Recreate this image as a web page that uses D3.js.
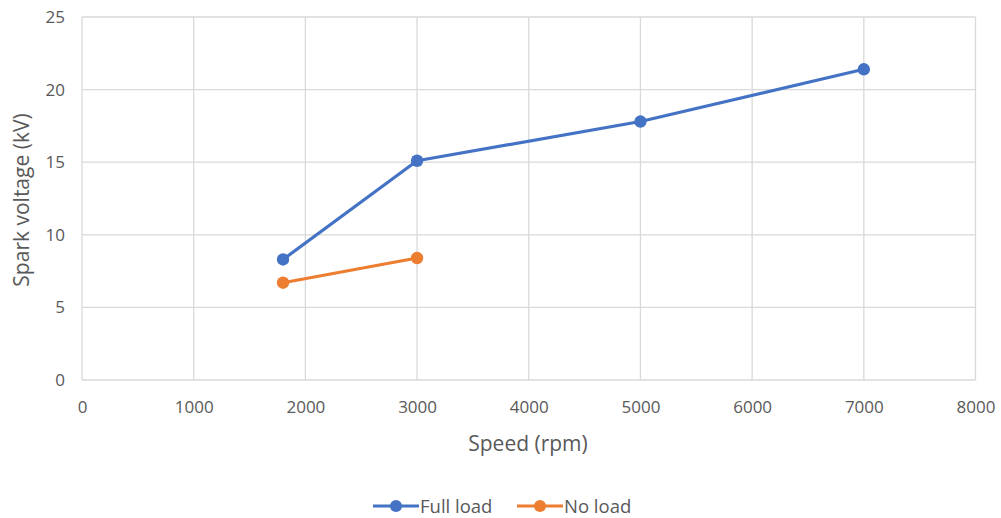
<!DOCTYPE html>
<html><head><meta charset="utf-8">
<script src="https://cdn.jsdelivr.net/npm/d3@7"></script>
<style>body{margin:0;background:#fff;}svg text{font-family:"Open Sans",Lato,sans-serif;fill:#595959;}</style>
</head><body>
<svg id="c" width="1001" height="518"></svg>
<script>
const xTicks = [0,1000,2000,3000,4000,5000,6000,7000,8000];
const yTicks = [0,5,10,15,20,25];
const fullSpeed = [1800,3000,5000,7000];
const fullVolt = [8.3,15.1,17.8,21.4];
const noSpeed = [1800,3000];
const noVolt = [6.7,8.4];
const seriesNames = ["Full load","No load"];
const colors = ["#4472C4","#ED7D31"];

const svg = d3.select("#c");
const x = d3.scaleLinear().domain([0,8000]).range([82,975.5]);
const y = d3.scaleLinear().domain([0,25]).range([380,17]);

const g = svg.append("g");
g.selectAll(".vg").data(xTicks).join("line")
  .attr("x1",d=>x(d)).attr("x2",d=>x(d)).attr("y1",y(0)).attr("y2",y(25))
  .attr("stroke","#d9d9d9").attr("stroke-width",1.3);
g.selectAll(".hg").data(yTicks).join("line")
  .attr("x1",x(0)).attr("x2",x(8000)).attr("y1",d=>y(d)).attr("y2",d=>y(d))
  .attr("stroke","#d9d9d9").attr("stroke-width",1.3);

const xAxis = svg.append("g").attr("transform",`translate(0,${y(0)})`)
  .call(d3.axisBottom(x).tickValues(xTicks).tickSize(0).tickPadding(21).tickFormat(d3.format("d")));
xAxis.select(".domain").remove();
xAxis.selectAll("text").style("font-size","17px").style("fill","#595959");
const yAxis = svg.append("g").attr("transform",`translate(${x(0)},0)`)
  .call(d3.axisLeft(y).tickValues(yTicks).tickSize(0).tickPadding(17));
yAxis.select(".domain").remove();
yAxis.selectAll("text").style("font-size","17px").style("fill","#595959");

svg.append("text").attr("x",528).attr("y",451).attr("text-anchor","middle")
  .style("font-size","21px").text("Speed (rpm)");
svg.append("text").attr("transform","translate(29,200) rotate(-90)").attr("text-anchor","middle")
  .style("font-size","21px").text("Spark voltage (kV)");

const data = [
  fullSpeed.map((s,i)=>({s,v:fullVolt[i]})),
  noSpeed.map((s,i)=>({s,v:noVolt[i]}))
];
const line = d3.line().x(d=>x(d.s)).y(d=>y(d.v));
data.forEach((ser,k)=>{
  svg.append("path").datum(ser).attr("d",line).attr("fill","none")
    .attr("stroke",colors[k]).attr("stroke-width",3.2).attr("stroke-linejoin","round");
  svg.selectAll(null).data(ser).join("circle").attr("cx",d=>x(d.s)).attr("cy",d=>y(d.v))
    .attr("r",6.2).attr("fill",colors[k]);
});

const lg = svg.append("g");
const lx = [373,517];
seriesNames.forEach((n,k)=>{
  const gg = lg.append("g").attr("transform",`translate(${lx[k]},506)`);
  gg.append("line").attr("x1",0).attr("x2",46).attr("stroke",colors[k]).attr("stroke-width",3.2);
  gg.append("circle").attr("cx",23).attr("r",6).attr("fill",colors[k]);
  gg.append("text").attr("x",47).attr("y",6.5).style("font-size","18.5px").text(n);
});
</script>
</body></html>
